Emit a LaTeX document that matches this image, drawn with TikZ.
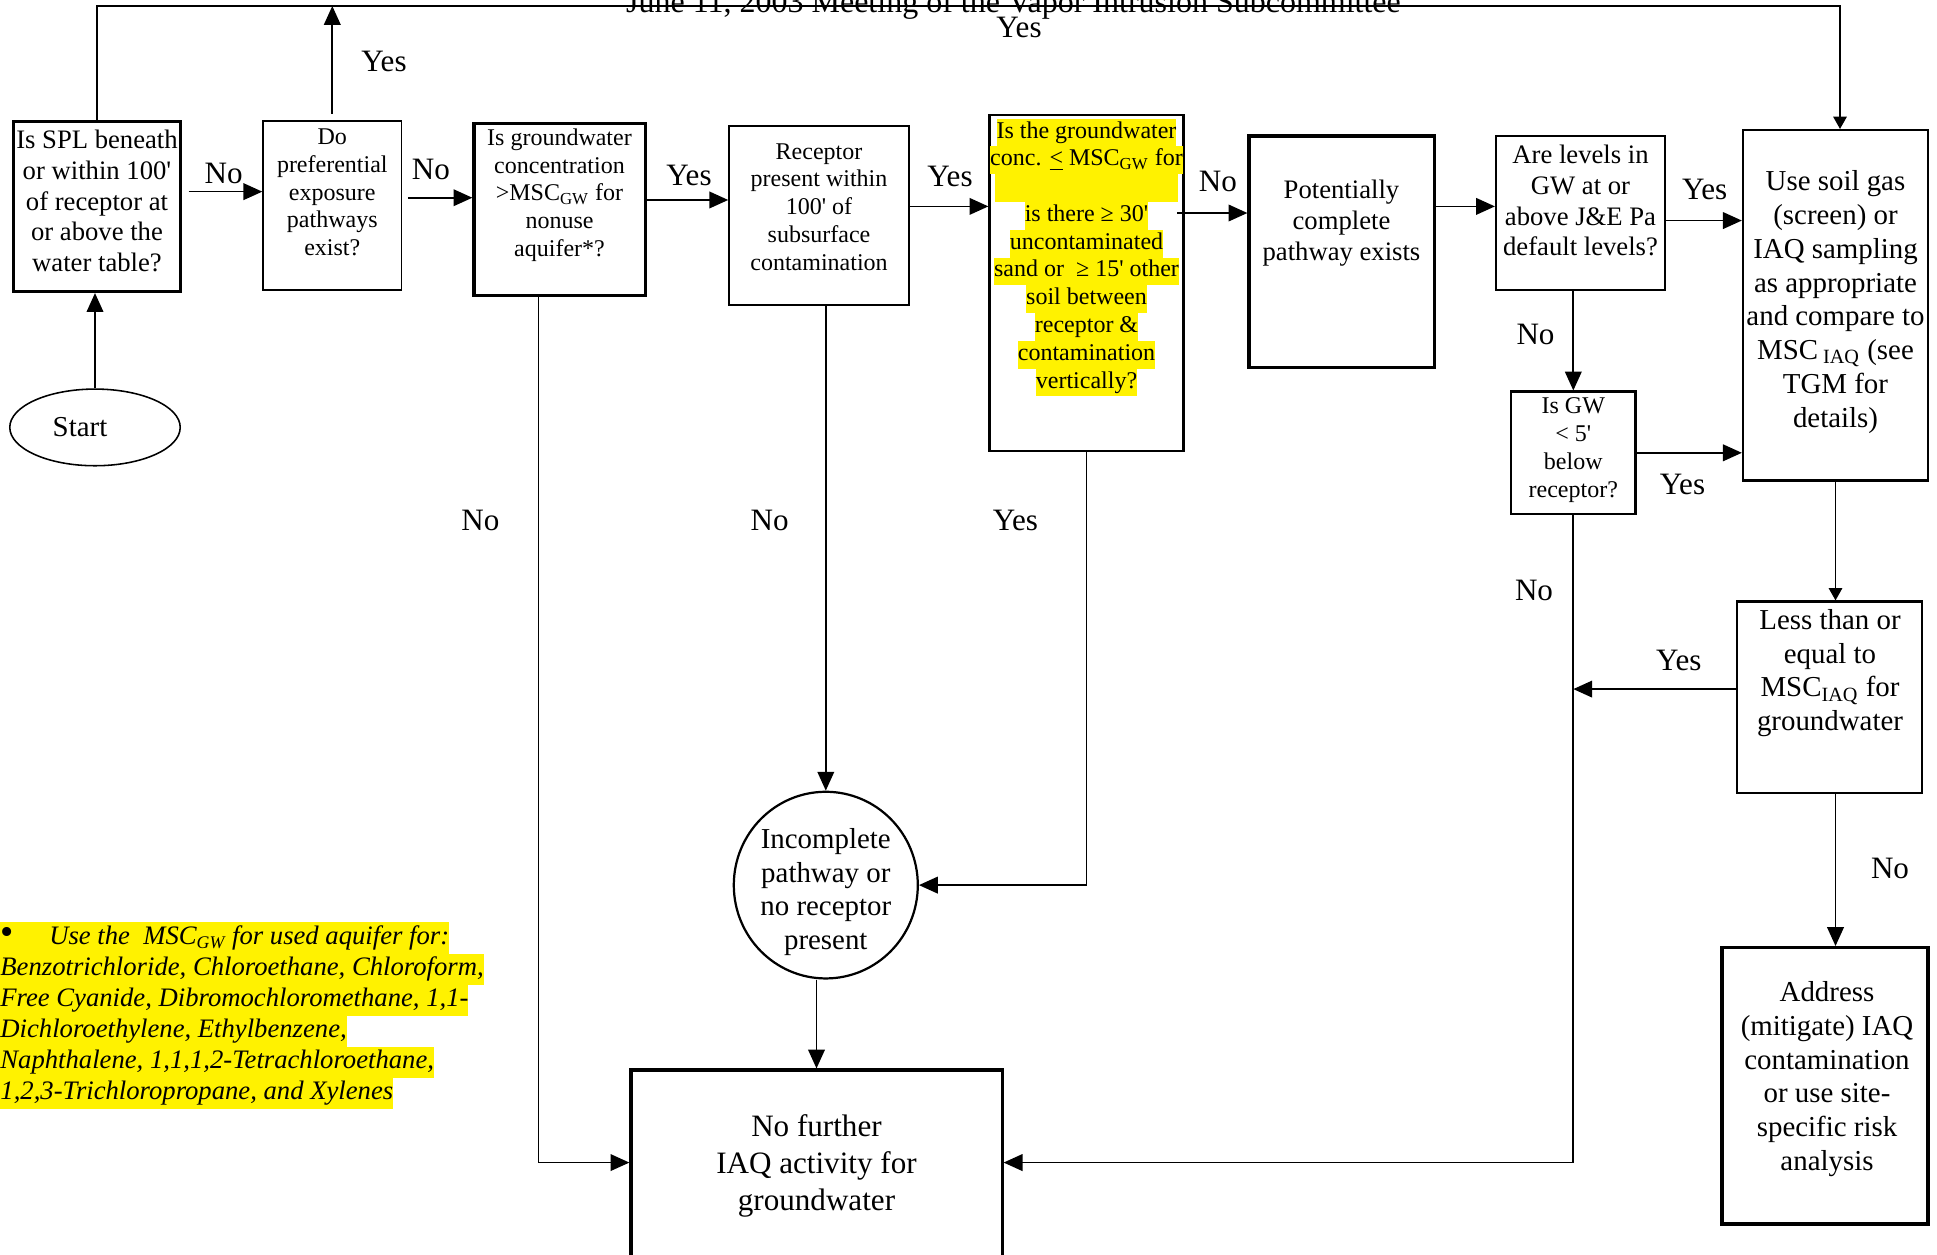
\documentclass[tikz,border=0pt]{standalone}
\usepackage{fontspec}
\setmainfont{Liberation Serif}
\usepackage{xcolor}
\usetikzlibrary{arrows.meta, positioning, shapes.geometric}

\newcommand{\feet}{\textquotesingle}
\newcommand{\hl}[1]{\colorbox{yellow}{\strut #1}}
\setlength{\fboxsep}{0pt}

\begin{document}
\begin{tikzpicture}[line join=miter, x=0.45pt, y=-0.45pt,
  >={Triangle[length=8.5pt,width=7.5pt]},
  box/.style={draw, rectangle, line width=1pt, inner sep=0pt},
  thinbox/.style={box, line width=0.7pt},
  thickbox/.style={box, line width=1.4pt},
  oval/.style={draw, ellipse, line width=1pt, inner sep=0pt},
  txt/.style={align=center, inner sep=0pt},
  ftxt11/.style={font=\fontsize{10.8}{12.5}\selectfont},
  ftxt12/.style={font=\fontsize{12}{13.9}\selectfont},
  ftxt13/.style={font=\fontsize{13}{15.2}\selectfont},
  ftxt14/.style={font=\fontsize{14}{16.7}\selectfont},
  lbl/.style={ftxt14, inner sep=0pt},
  flow/.style={->, line width=0.75pt},
  smalltip/.style={>={Triangle[length=5.5pt,width=6pt]}}]

\useasboundingbox (0,0) rectangle (1937,1254);

% Title (cut at the top)
\node[font=\fontsize{14.4}{17}\selectfont, anchor=base, inner sep=0pt] (title) at (1013.5,12.5) {June 11, 2003 Meeting of the Vapor Intrusion Subcommittee};

% Boxes
\node[oval, line width=0.7pt, minimum width=76.7pt, minimum height=34.5pt] (start) at (95,427.4) {};
\node[thickbox, minimum width=75.1pt, minimum height=76.7pt] (spl) at (97,206.3) {};
\node[thinbox, minimum width=62.3pt, minimum height=76pt] (pref) at (332.3,205.5) {};
\node[thickbox, minimum width=77pt, minimum height=77.2pt] (gwc) at (559.5,209.3) {};
\node[thinbox, minimum width=81pt, minimum height=80.6pt] (rec) at (819,215.5) {};
\node[box, minimum width=87.3pt, minimum height=151.2pt] (dep) at (1086.5,283) {};
\node[thickbox, minimum width=83.3pt, minimum height=104pt] (pot) at (1341.5,251.5) {};
\node[box, minimum width=76pt, minimum height=69.3pt] (lev) at (1580.5,213) {};
\node[box, minimum width=56pt, minimum height=55.1pt] (gw5) at (1573.3,452.8) {};
\node[box, minimum width=83.3pt, minimum height=157.7pt] (soil) at (1835.5,305.3) {};
\node[box, minimum width=83.3pt, minimum height=86.2pt] (leq) at (1829.5,697.3) {};
\node[thickbox, minimum width=92.7pt, minimum height=124.4pt] (addr) at (1825,1085.8) {};
\node[thickbox, minimum width=167pt, minimum height=103.5pt] (nfa) at (816.5,1185) {};
\node[oval, minimum width=82.8pt, minimum height=84pt] (inc) at (825.8,885.1) {};

% Box texts
\node[txt, ftxt13] (start-t) at (80,427.4) {Start};
\node[txt, ftxt12] (spl-t) at (97,201) {Is SPL beneath\\or within 100\feet\\of receptor at\\or above the\\water table?};
\node[txt, ftxt11] (pref-t) at (332.3,192.5) {Do\\preferential\\exposure\\pathways\\exist?};
\node[txt, ftxt11] (gwc-t) at (559.5,195) {Is groundwater\\concentration\\>MSC\textsubscript{GW} for\\nonuse\\aquifer*?};
\node[txt, ftxt11] (rec-t) at (819,207) {Receptor\\present within\\100\feet{} of\\subsurface\\contamination};
\node[txt, ftxt11] (dep-t) at (1086.5,257.5) {\hl{Is the groundwater}\\\hl{conc. \underline{<} MSC\textsubscript{GW} for}\\\hl{\hspace{82pt}}\\\hl{is there ≥ 30\feet}\\\hl{uncontaminated}\\\hl{sand or\ \ ≥ 15\feet{} other}\\\hl{soil between}\\\hl{receptor \&}\\\hl{contamination}\\\hl{vertically?}};
\node[txt, ftxt12] (pot-t) at (1341.5,223) {Potentially\\complete\\pathway exists};
\node[txt, ftxt12] (lev-t) at (1580.5,200.5) {Are levels in\\GW at or\\above J\&E Pa\\default levels?};
\node[txt, ftxt11] (gw5-t) at (1573.3,450) {Is GW\\< 5\feet\\below\\receptor?};
\node[txt, ftxt13] (soil-t) at (1835.5,302) {Use soil gas\\(screen) or\\IAQ sampling\\as appropriate\\and compare to\\MSC\,\textsubscript{IAQ} (see\\TGM for\\details)};
\node[txt, ftxt13] (leq-t) at (1830,673) {Less than or\\equal to\\MSC\textsubscript{IAQ} for\\groundwater};
\node[txt, ftxt13] (addr-t) at (1827,1079) {Address\\(mitigate) IAQ\\contamination\\or use site-\\specific risk\\analysis};
\node[txt, ftxt14] (nfa-t) at (816.5,1166) {No further\\IAQ activity for\\groundwater};
\node[txt, ftxt13] (inc-t) at (825.8,892) {Incomplete\\pathway or\\no receptor\\present};

% Footnote
\node[anchor=north west, align=left, inner sep=0pt, font=\fontsize{12}{14}\selectfont\itshape] (note) at (0,922) {\hl{\makebox[22pt][l]{\upshape\fontsize{17}{14}\selectfont\textbullet}Use the\ \ MSC\textsubscript{GW} for used aquifer for:}\\\hl{Benzotrichloride, Chloroethane, Chloroform,}\\\hl{Free Cyanide, Dibromochloromethane, 1,1-}\\\hl{Dichloroethylene, Ethylbenzene,}\\\hl{Naphthalene, 1,1,1,2-Tetrachloroethane,}\\\hl{1,2,3-Trichloropropane, and Xylenes}};

% Connectors
\coordinate (top) at (1840,6);
\draw[flow] (start.north) -- (start.north |- spl.south);
\draw[flow, smalltip] (spl.north) |- (top) -- (top |- soil.north);
\draw[flow, shorten <=3pt] (pref.north) -- (pref.north |- top);
\draw[flow, shorten <=3pt] ([yshift=6.6pt]spl.east) -- ([yshift=6.6pt]spl.east -| pref.west);
\draw[flow, shorten <=2.5pt] ([yshift=3.5pt]pref.east) -- ([yshift=3.5pt]pref.east -| gwc.west);
\draw[flow] ([yshift=4.2pt]gwc.east) -- ([yshift=4.2pt]gwc.east -| rec.west);
\draw[flow] ([yshift=4.1pt]rec.east) -- ([yshift=4.1pt]rec.east -| dep.west);
\draw[flow, shorten <=-3.4pt] ([yshift=31.5pt]dep.east) -- ([yshift=31.5pt]dep.east -| pot.west);
\draw[flow] ([yshift=20.3pt]pot.east) -- ([yshift=20.3pt]pot.east -| lev.west);
\draw[flow] ([yshift=-3.4pt]lev.east) -- ([yshift=-3.4pt]lev.east -| soil.west);
\draw[flow] (gw5.north |- lev.south) -- (gw5.north);
\draw[flow] (gw5.east) -- (gw5.east -| soil.west);
\draw[flow, smalltip] (soil.south) -- (soil.south |- leq.north);
\draw[flow] ([yshift=3.7pt]leq.west) -- ([yshift=3.7pt]leq.west -| gw5.south);
\draw[flow] (soil.south |- leq.south) -- (soil.south |- addr.north);
\draw[flow] (gw5.south) |- ([yshift=10.1pt]nfa.east);
\draw[flow] ([xshift=-9.4pt]gwc.south) |- ([yshift=10.1pt]nfa.west);
\draw[flow] (inc.north |- rec.south) -- (inc.north);
\draw[flow] (dep.south) |- (inc.east);
\draw[flow] (nfa.north |- inc.south) -- (nfa.north);

% Yes / No labels
\foreach \lx/\ly/\lt [count=\i] in {223.6/173/No, 384/61.8/Yes, 1019/27.2/Yes, 431/169/No,
    689/175.4/Yes, 950/176.6/Yes, 1218/181.6/No, 1704.7/189/Yes, 1535.5/334.8/No,
    1682.5/484.2/Yes, 1534/590.5/No, 1678.8/660.9/Yes, 1890/868.4/No,
    480.5/520/No, 769.6/520/No, 1015.4/520/Yes}
  \node[lbl] (lbl\i) at (\lx,\ly) {\lt};
\end{tikzpicture}
\end{document}
